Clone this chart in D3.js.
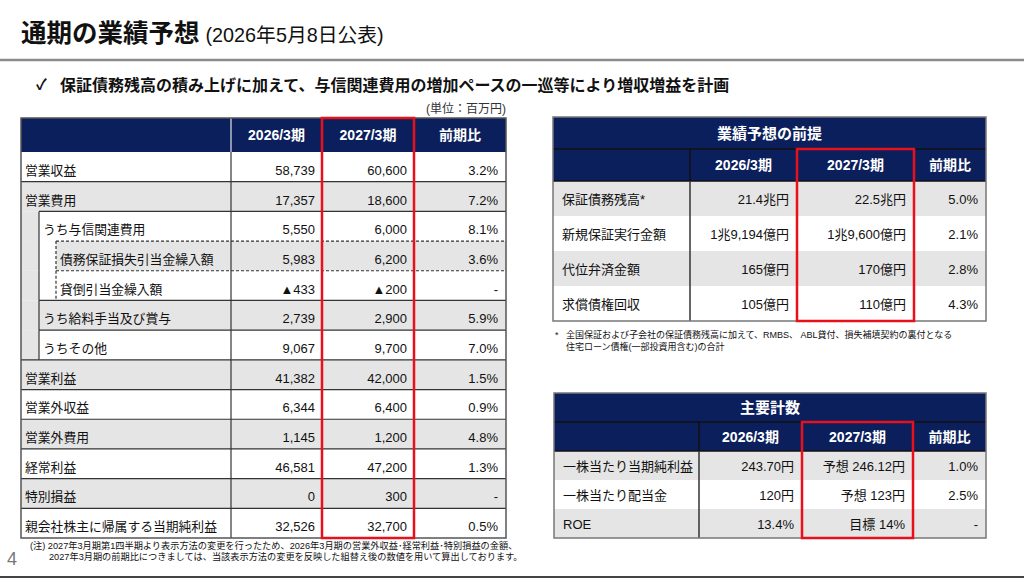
<!DOCTYPE html>
<html>
<head>
<meta charset="utf-8" />
<script src="https://d3js.org/d3.v7.min.js"></script>
<style>
  body { margin: 0; background: #fff; }
  svg text { font-family: "Liberation Sans", Arial, "Noto Sans CJK JP", "DejaVu Sans", sans-serif; fill: #111; }
</style>
</head>
<body>
<script>
// ---- データ ----
const periods = ["2026/3期", "2027/3期", "前期比"];

const pnlLabels = ["営業収益", "営業費用", "うち与信関連費用", "債務保証損失引当金繰入額", "貸倒引当金繰入額",
  "うち給料手当及び賞与", "うちその他", "営業利益", "営業外収益", "営業外費用", "経常利益", "特別損益",
  "親会社株主に帰属する当期純利益"];
const pnlLevel = [0, 0, 1, 2, 2, 1, 1, 0, 0, 0, 0, 0, 0];
const pnl2026 = [58739, 17357, 5550, 5983, -433, 2739, 9067, 41382, 6344, 1145, 46581, 0, 32526];
const pnl2027 = [60600, 18600, 6000, 6200, -200, 2900, 9700, 42000, 6400, 1200, 47200, 300, 32700];
const pnlYoY = [3.2, 7.2, 8.1, 3.6, null, 5.9, 7.0, 1.5, 0.9, 4.8, 1.3, null, 0.5];

const premLabels = ["保証債務残高*", "新規保証実行金額", "代位弁済金額", "求償債権回収"];
const prem2026 = ["21.4兆円", "1兆9,194億円", "165億円", "105億円"];
const prem2027 = ["22.5兆円", "1兆9,600億円", "170億円", "110億円"];
const premYoY = [5.0, 2.1, 2.8, 4.3];

const kpiLabels = ["一株当たり当期純利益", "一株当たり配当金", "ROE"];
const kpi2026 = ["243.70円", "120円", "13.4%"];
const kpi2027 = ["予想 246.12円", "予想 123円", "目標 14%"];
const kpiYoY = [1.0, 2.5, null];

// ---- 共通 ----
const W = 1024, H = 578;
const NAVY = "#0c1f5d", GREY = "#e5e5e5", RED = "#e8101a", LINE = "#333";
const fmtNum = v => v < 0 ? "▲" + d3.format(",")(-v) : d3.format(",")(v);
const fmtYoY = v => v == null ? "-" : v.toFixed(1) + "%";

const svg = d3.select("body").append("svg").attr("width", W).attr("height", H);

// タイトル
const title = svg.append("text").attr("x", 21).attr("y", 42);
title.append("tspan").attr("font-size", 25.5).attr("font-weight", "bold").text("通期の業績予想");
title.append("tspan").attr("font-size", 19.8).attr("dx", 6).text("(2026年5月8日公表)");

svg.append("line").attr("x1", 0).attr("x2", W).attr("y1", 60).attr("y2", 60)
  .attr("stroke", "#8c8c8c").attr("stroke-width", 2.5);

svg.append("text").attr("x", 36).attr("y", 90).attr("font-size", 15).attr("font-weight", "bold").text("✓");
svg.append("text").attr("x", 60).attr("y", 91).attr("font-size", 16).attr("font-weight", "bold")
  .text("保証債務残高の積み上げに加えて、与信関連費用の増加ペースの一巡等により増収増益を計画");

svg.append("text").attr("x", 506).attr("y", 113).attr("font-size", 12).attr("text-anchor", "end")
  .style("fill", "#333").text("(単位：百万円)");

// ---- 左表：損益 ----
const L = { cols: [21, 231, 322, 414, 506], top: 118, head: 152, bottom: 538, indent: [21, 39, 56] };
const yL = d3.scaleBand().domain(d3.range(pnlLabels.length)).range([L.head, L.bottom]);
const bw = yL.bandwidth();
const rowFill = i => i % 2 ? GREY : "#fff";
const gL = svg.append("g");

// 行の背景
gL.selectAll("rect.bg").data(pnlLabels).join("rect")
  .attr("x", (d, i) => L.indent[pnlLevel[i]])
  .attr("y", (d, i) => yL(i))
  .attr("width", (d, i) => L.cols[4] - L.indent[pnlLevel[i]])
  .attr("height", bw)
  .attr("fill", (d, i) => rowFill(i));

// 親行の帯（字下げ部分）
const strips = [];
pnlLevel.forEach((lv, i) => {
  for (let k = 0; k < lv; k++) {
    let j = i;
    while (pnlLevel[j] !== k) j--;
    strips.push({ i, k, j });
  }
});
gL.selectAll("rect.strip").data(strips).join("rect")
  .attr("x", d => L.indent[d.k]).attr("y", d => yL(d.i))
  .attr("width", d => L.indent[d.k + 1] - L.indent[d.k]).attr("height", bw)
  .attr("fill", d => rowFill(d.j));

// 横罫線
gL.selectAll("line.h").data(d3.range(1, pnlLabels.length)).join("line")
  .attr("x1", i => L.indent[pnlLevel[i]]).attr("x2", L.cols[4])
  .attr("y1", i => yL(i)).attr("y2", i => yL(i))
  .attr("stroke", LINE).attr("stroke-width", 1.2)
  .attr("stroke-dasharray", i => pnlLevel[i] === 2 ? "3,2" : null);

// 字下げの縦罫線
const vsegs = [];
pnlLevel.forEach((lv, i) => { for (let k = 1; k <= lv; k++) vsegs.push({ i, k }); });
gL.selectAll("line.v").data(vsegs).join("line")
  .attr("x1", d => L.indent[d.k]).attr("x2", d => L.indent[d.k])
  .attr("y1", d => yL(d.i)).attr("y2", d => yL(d.i) + bw)
  .attr("stroke", LINE).attr("stroke-width", 1.2)
  .attr("stroke-dasharray", d => d.k === 2 ? "3,2" : null);

// 列の縦罫線
gL.selectAll("line.c").data(L.cols.slice(1, 4)).join("line")
  .attr("x1", d => d).attr("x2", d => d).attr("y1", L.head).attr("y2", L.bottom)
  .attr("stroke", LINE).attr("stroke-width", 1.2);

// ヘッダー
gL.append("rect").attr("x", L.cols[0]).attr("y", L.top)
  .attr("width", L.cols[4] - L.cols[0]).attr("height", L.head - L.top).attr("fill", NAVY);
gL.append("line").attr("x1", L.cols[1]).attr("x2", L.cols[1]).attr("y1", L.top).attr("y2", L.head)
  .attr("stroke", "#b8bcc8").attr("stroke-width", 1.5);
gL.selectAll("text.hd").data(periods).join("text")
  .attr("x", (d, i) => (L.cols[i + 1] + L.cols[i + 2]) / 2).attr("y", (L.top + L.head) / 2 + 5)
  .attr("text-anchor", "middle").attr("font-size", 14).attr("font-weight", "bold")
  .style("fill", "#fff").text(d => d);

// 外枠
gL.append("rect").attr("x", L.cols[0]).attr("y", L.top)
  .attr("width", L.cols[4] - L.cols[0]).attr("height", L.bottom - L.top)
  .attr("fill", "none").attr("stroke", "#555").attr("stroke-width", 1.5);

// 文字
const baseL = i => yL(i) + bw / 2 + 8;
gL.selectAll("text.lb").data(pnlLabels).join("text")
  .attr("x", (d, i) => L.indent[pnlLevel[i]] + 4).attr("y", (d, i) => baseL(i))
  .attr("font-size", 12.8).text(d => d);
[pnl2026, pnl2027].forEach((arr, c) => {
  gL.selectAll("text.v" + c).data(arr).join("text")
    .attr("x", L.cols[c + 2] - 7).attr("y", (d, i) => baseL(i))
    .attr("text-anchor", "end").attr("font-size", 13).text(d => fmtNum(d));
});
gL.selectAll("text.yoy").data(pnlYoY).join("text")
  .attr("x", L.cols[4] - 8).attr("y", (d, i) => baseL(i))
  .attr("text-anchor", "end").attr("font-size", 13).text(d => fmtYoY(d));

// 赤枠
gL.append("rect").attr("x", L.cols[2]).attr("y", L.top)
  .attr("width", L.cols[3] - L.cols[2]).attr("height", L.bottom - L.top)
  .attr("fill", "none").attr("stroke", RED).attr("stroke-width", 2.5);

// ---- 右の表 ----
function sideTable(o) {
  const g = svg.append("g");
  const c = o.cols;
  const head = o.top + o.titleH, body = head + o.headH, bottom = body + o.rowH * o.labels.length;
  const y = d3.scaleBand().domain(d3.range(o.labels.length)).range([body, bottom]);

  g.selectAll("rect.bg").data(o.labels).join("rect")
    .attr("x", c[0]).attr("y", (d, i) => y(i)).attr("width", c[4] - c[0]).attr("height", y.bandwidth())
    .attr("fill", (d, i) => i % 2 ? "#fff" : GREY);

  g.append("rect").attr("x", c[0]).attr("y", o.top).attr("width", c[4] - c[0]).attr("height", body - o.top)
    .attr("fill", NAVY);
  g.append("line").attr("x1", c[0]).attr("x2", c[4]).attr("y1", head).attr("y2", head)
    .attr("stroke", "#111").attr("stroke-width", 1.5);
  g.append("line").attr("x1", c[0]).attr("x2", c[4]).attr("y1", body).attr("y2", body)
    .attr("stroke", "#111").attr("stroke-width", 1.5);
  g.selectAll("line.hc").data([c[1], c[3]]).join("line")
    .attr("x1", d => d).attr("x2", d => d).attr("y1", head).attr("y2", body)
    .attr("stroke", "#111").attr("stroke-width", 1.5);
  g.append("line").attr("x1", c[1]).attr("x2", c[1]).attr("y1", body).attr("y2", bottom)
    .attr("stroke", LINE).attr("stroke-width", 1.5);

  g.append("text").attr("x", (c[0] + c[4]) / 2).attr("y", o.top + o.titleH / 2 + 5.5)
    .attr("text-anchor", "middle").attr("font-size", 15).attr("font-weight", "bold")
    .style("fill", "#fff").text(o.title);
  g.selectAll("text.hd").data(periods).join("text")
    .attr("x", (d, i) => (c[i + 1] + c[i + 2]) / 2).attr("y", head + o.headH / 2 + 5)
    .attr("text-anchor", "middle").attr("font-size", 14).attr("font-weight", "bold")
    .style("fill", "#fff").text(d => d);

  const base = i => y(i) + y.bandwidth() / 2 + 5;
  g.selectAll("text.lb").data(o.labels).join("text")
    .attr("x", c[0] + 9).attr("y", (d, i) => base(i)).attr("font-size", 13).text(d => d);
  [o.v1, o.v2].forEach((arr, k) => {
    g.selectAll("text.v" + k).data(arr).join("text")
      .attr("x", c[k + 2] - 8).attr("y", (d, i) => base(i))
      .attr("text-anchor", "end").attr("font-size", 13).text(d => d);
  });
  g.selectAll("text.yoy").data(o.yoy).join("text")
    .attr("x", c[4] - 8).attr("y", (d, i) => base(i))
    .attr("text-anchor", "end").attr("font-size", 13).text(d => fmtYoY(d));

  g.append("rect").attr("x", c[0]).attr("y", o.top).attr("width", c[4] - c[0]).attr("height", bottom - o.top)
    .attr("fill", "none").attr("stroke", "#777").attr("stroke-width", 1.5);
  g.append("rect").attr("x", c[2]).attr("y", head).attr("width", c[3] - c[2]).attr("height", bottom - head)
    .attr("fill", "none").attr("stroke", RED).attr("stroke-width", 2.5);
}

sideTable({
  cols: [553, 690, 797, 914, 986], top: 117, titleH: 32, headH: 32, rowH: 35,
  title: "業績予想の前提", labels: premLabels, v1: prem2026, v2: prem2027, yoy: premYoY
});
sideTable({
  cols: [554, 699, 802, 913, 986], top: 393, titleH: 29, headH: 29, rowH: 29,
  title: "主要計数", labels: kpiLabels, v1: kpi2026, v2: kpi2027, yoy: kpiYoY
});

// 注記
svg.append("text").attr("x", 555).attr("y", 338).attr("font-size", 9).text("*");
svg.append("text").attr("x", 566).attr("y", 338).attr("font-size", 9)
  .text("全国保証および子会社の保証債務残高に加えて、RMBS、 ABL貸付、損失補填契約の裏付となる");
svg.append("text").attr("x", 566).attr("y", 350).attr("font-size", 9)
  .text("住宅ローン債権(一部投資用含む)の合計");

svg.append("text").attr("x", 30).attr("y", 549).attr("font-size", 9.2)
  .text("(注) 2027年3月期第1四半期より表示方法の変更を行ったため、2026年3月期の営業外収益･経常利益･特別損益の金額、");
svg.append("text").attr("x", 49).attr("y", 560).attr("font-size", 9.2)
  .text("2027年3月期の前期比につきましては、当該表示方法の変更を反映した組替え後の数値を用いて算出しております。");

svg.append("text").attr("x", 7).attr("y", 565).attr("font-size", 18).style("fill", "#777").text("4");
svg.append("line").attr("x1", 0).attr("x2", W).attr("y1", 577).attr("y2", 577)
  .attr("stroke", "#444").attr("stroke-width", 2);
</script>
</body>
</html>
